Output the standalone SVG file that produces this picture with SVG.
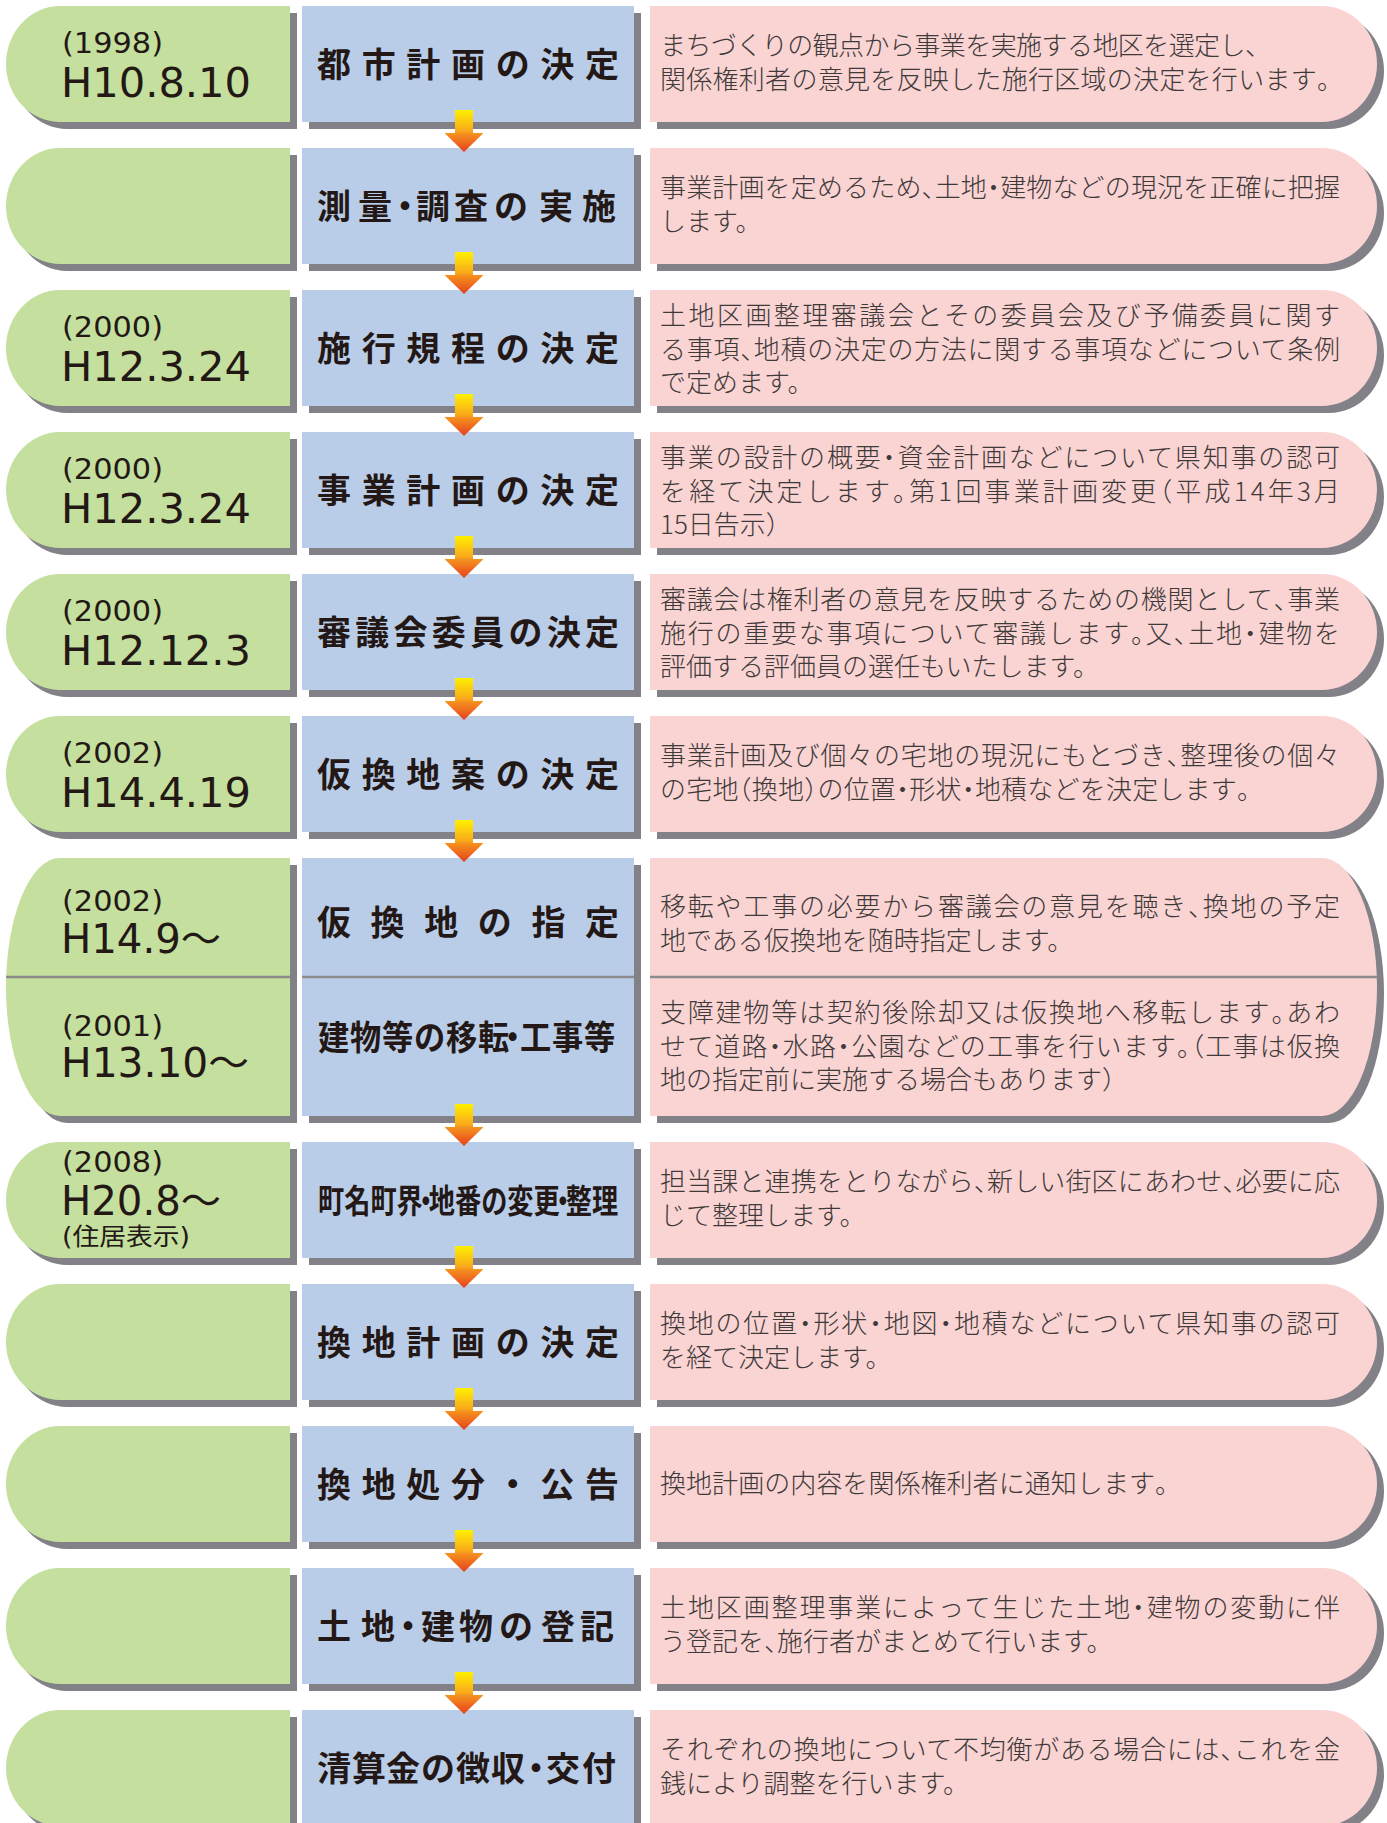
<svg xmlns="http://www.w3.org/2000/svg" xmlns:xlink="http://www.w3.org/1999/xlink" width="1387" height="1823" viewBox="0 0 1387 1823">
<style>
.g{fill:#C5DF9E}
.b{fill:#BACDE8}
.p{fill:#FAD3D3}
.s{fill:#818187}
.dt{font-family:"DejaVu Sans","Noto Sans CJK JP",sans-serif;fill:#231815}
.y{font-size:28px}
.d{font-size:40px}
.k{font-size:24px}
.t{font-family:"Noto Sans CJK JP",sans-serif;font-weight:700;font-size:34px;fill:#231815;text-anchor:middle}
.tl{text-anchor:start}
.x{font-family:"Noto Sans CJK JP",sans-serif;font-weight:300;font-size:26px;fill:#3E3A39}
.h{font-feature-settings:"halt"}
.dv{stroke:#8C8C8C;stroke-width:2.5}
.ar{fill:url(#ag)}
</style>
<defs>
<linearGradient id="ag" x1="0" y1="0" x2="0" y2="1">
<stop offset="0" stop-color="#FFF000"/>
<stop offset="0.5" stop-color="#F9A91B"/>
<stop offset="0.56" stop-color="#F5921E"/>
<stop offset="1" stop-color="#E6401E"/>
</linearGradient>
<path id="gS" d="M290,0 L60,0 A54,58 0 0 0 60,116 L290,116 Z"/>
<path id="pS" d="M650,0 L1322,0 A55,58 0 0 1 1322,116 L650,116 Z"/>
<rect id="bS" x="302" y="0" width="332" height="116"/>
<path id="gD" d="M290,0 L60,0 A54,129 0 0 0 60,258 L290,258 Z"/>
<path id="pD" d="M650,0 L1322,0 A55,129 0 0 1 1322,258 L650,258 Z"/>
<rect id="bD" x="302" y="0" width="332" height="258"/>
<path id="arw" d="M455,-12 L473,-12 L473,11 L483.5,11 L464,30 L444.5,11 L455,11 Z"/>
</defs>

<!-- Row 1 -->
<g id="r1-date"><use href="#gS" class="s" x="7" y="13"/><use href="#gS" class="g" y="6"/>
<text class="dt y" x="62" y="53" textLength="101" lengthAdjust="spacingAndGlyphs">(1998)</text>
<text class="dt d" x="61" y="97" textLength="190" lengthAdjust="spacingAndGlyphs">H10.8.10</text></g>
<g id="r1-step"><use href="#bS" class="s" x="7" y="13"/><use href="#bS" class="b" y="6"/>
<text class="t" x="468" y="77" textLength="302">都市計画の決定</text></g>
<g id="r1-desc"><use href="#pS" class="s" x="7" y="13"/><use href="#pS" class="p" y="6"/>
<text class="x" x="660" y="55" textLength="598">まちづくりの観点から事業を実施する地区を選定し<tspan class="h">、</tspan></text>
<text class="x" x="660" y="89" textLength="670">関係権利者の意見を反映した施行区域の決定を行います<tspan class="h">。</tspan></text></g>

<!-- Row 2 -->
<g id="r2-date"><use href="#gS" class="s" x="7" y="155"/><use href="#gS" class="g" y="148"/></g>
<g id="r2-step"><use href="#bS" class="s" x="7" y="155"/><use href="#bS" class="b" y="148"/>
<text class="t tl" y="219" x="317 358 388 416 454 494 539 582">測量・調査の実施</text></g>
<g id="r2-desc"><use href="#pS" class="s" x="7" y="155"/><use href="#pS" class="p" y="148"/>
<text class="x" x="660" y="197" textLength="680">事業計画を定めるため<tspan class="h">、</tspan>土地<tspan class="h">・</tspan>建物などの現況を正確に把握</text>
<text class="x" x="660" y="231">します。</text></g>

<!-- Row 3 -->
<g id="r3-date"><use href="#gS" class="s" x="7" y="297"/><use href="#gS" class="g" y="290"/>
<text class="dt y" x="62" y="337" textLength="101" lengthAdjust="spacingAndGlyphs">(2000)</text>
<text class="dt d" x="61" y="381" textLength="190" lengthAdjust="spacingAndGlyphs">H12.3.24</text></g>
<g id="r3-step"><use href="#bS" class="s" x="7" y="297"/><use href="#bS" class="b" y="290"/>
<text class="t" x="468" y="361" textLength="302">施行規程の決定</text></g>
<g id="r3-desc"><use href="#pS" class="s" x="7" y="297"/><use href="#pS" class="p" y="290"/>
<text class="x" x="660" y="325" textLength="680">土地区画整理審議会とその委員会及び予備委員に関す</text>
<text class="x" x="660" y="359" textLength="680">る事項<tspan class="h">、</tspan>地積の決定の方法に関する事項などについて条例</text>
<text class="x" x="660" y="392">で定めます。</text></g>

<!-- Row 4 -->
<g id="r4-date"><use href="#gS" class="s" x="7" y="439"/><use href="#gS" class="g" y="432"/>
<text class="dt y" x="62" y="479" textLength="101" lengthAdjust="spacingAndGlyphs">(2000)</text>
<text class="dt d" x="61" y="523" textLength="190" lengthAdjust="spacingAndGlyphs">H12.3.24</text></g>
<g id="r4-step"><use href="#bS" class="s" x="7" y="439"/><use href="#bS" class="b" y="432"/>
<text class="t" x="468" y="503" textLength="302">事業計画の決定</text></g>
<g id="r4-desc"><use href="#pS" class="s" x="7" y="439"/><use href="#pS" class="p" y="432"/>
<text class="x" x="660" y="467" textLength="680">事業の設計の概要<tspan class="h">・</tspan>資金計画などについて県知事の認可</text>
<text class="x" x="660" y="501" textLength="680">を経て決定します<tspan class="h">。</tspan>第1回事業計画変更<tspan class="h">（</tspan>平成14年3月</text>
<text class="x" x="660" y="534">15日告示）</text></g>

<!-- Row 5 -->
<g id="r5-date"><use href="#gS" class="s" x="7" y="581"/><use href="#gS" class="g" y="574"/>
<text class="dt y" x="62" y="621" textLength="101" lengthAdjust="spacingAndGlyphs">(2000)</text>
<text class="dt d" x="61" y="665" textLength="190" lengthAdjust="spacingAndGlyphs">H12.12.3</text></g>
<g id="r5-step"><use href="#bS" class="s" x="7" y="581"/><use href="#bS" class="b" y="574"/>
<text class="t" x="468" y="645" textLength="302">審議会委員の決定</text></g>
<g id="r5-desc"><use href="#pS" class="s" x="7" y="581"/><use href="#pS" class="p" y="574"/>
<text class="x" x="660" y="609" textLength="680">審議会は権利者の意見を反映するための機関として<tspan class="h">、</tspan>事業</text>
<text class="x" x="660" y="643" textLength="680">施行の重要な事項について審議します<tspan class="h">。</tspan>又<tspan class="h">、</tspan>土地<tspan class="h">・</tspan>建物を</text>
<text class="x" x="660" y="676">評価する評価員の選任もいたします。</text></g>

<!-- Row 6 -->
<g id="r6-date"><use href="#gS" class="s" x="7" y="723"/><use href="#gS" class="g" y="716"/>
<text class="dt y" x="62" y="763" textLength="101" lengthAdjust="spacingAndGlyphs">(2002)</text>
<text class="dt d" x="61" y="807" textLength="190" lengthAdjust="spacingAndGlyphs">H14.4.19</text></g>
<g id="r6-step"><use href="#bS" class="s" x="7" y="723"/><use href="#bS" class="b" y="716"/>
<text class="t" x="468" y="787" textLength="302">仮換地案の決定</text></g>
<g id="r6-desc"><use href="#pS" class="s" x="7" y="723"/><use href="#pS" class="p" y="716"/>
<text class="x" x="660" y="765" textLength="680">事業計画及び個々の宅地の現況にもとづき<tspan class="h">、</tspan>整理後の個々</text>
<text class="x" x="660" y="799" textLength="590">の宅地<tspan class="h">（</tspan>換地<tspan class="h">）</tspan>の位置<tspan class="h">・</tspan>形状<tspan class="h">・</tspan>地積などを決定します<tspan class="h">。</tspan></text></g>

<!-- Row 7 (double) -->
<g id="r7-date"><use href="#gD" class="s" x="7" y="865"/><use href="#gD" class="g" y="858"/>
<line class="dv" x1="6" y1="977" x2="290" y2="977"/>
<text class="dt y" x="62" y="911" textLength="101" lengthAdjust="spacingAndGlyphs">(2002)</text>
<text class="dt d" x="61" y="953" textLength="160" lengthAdjust="spacingAndGlyphs">H14.9〜</text>
<text class="dt y" x="62" y="1036" textLength="101" lengthAdjust="spacingAndGlyphs">(2001)</text>
<text class="dt d" x="61" y="1077" textLength="188" lengthAdjust="spacingAndGlyphs">H13.10〜</text></g>
<g id="r7-step"><use href="#bD" class="s" x="7" y="865"/><use href="#bD" class="b" y="858"/>
<line class="dv" x1="302" y1="977" x2="634" y2="977"/>
<text class="t" x="468" y="935" textLength="302">仮換地の指定</text>
<text class="t tl" transform="translate(318,1050) scale(0.92,1)" y="0" x="0 34.8 69.6 104.3 139.1 173.9 194.6 219.6 254.3 289.1">建物等の移転・工事等</text></g>
<g id="r7-desc"><use href="#pD" class="s" x="7" y="865"/><use href="#pD" class="p" y="858"/>
<line class="dv" x1="650" y1="977" x2="1377" y2="977"/>
<text class="x" x="660" y="915.5" textLength="680">移転や工事の必要から審議会の意見を聴き<tspan class="h">、</tspan>換地の予定</text>
<text class="x" x="660" y="950">地である仮換地を随時指定します。</text>
<text class="x" x="660" y="1021.5" textLength="680">支障建物等は契約後除却又は仮換地へ移転します<tspan class="h">。</tspan>あわ</text>
<text class="x" x="660" y="1055.5" textLength="680">せて道路<tspan class="h">・</tspan>水路<tspan class="h">・</tspan>公園などの工事を行います<tspan class="h">。（</tspan>工事は仮換</text>
<text class="x" x="660" y="1089">地の指定前に実施する場合もあります）</text></g>

<!-- Row 9 -->
<g id="r9-date"><use href="#gS" class="s" x="7" y="1149"/><use href="#gS" class="g" y="1142"/>
<text class="dt y" x="62" y="1172" textLength="101" lengthAdjust="spacingAndGlyphs">(2008)</text>
<text class="dt d" x="61" y="1215" textLength="160" lengthAdjust="spacingAndGlyphs">H20.8〜</text>
<text class="dt k" x="62" y="1245" textLength="128" lengthAdjust="spacingAndGlyphs">(住居表示)</text></g>
<g id="r9-step"><use href="#bS" class="s" x="7" y="1149"/><use href="#bS" class="b" y="1142"/>
<text class="t tl" style="font-size:33px" transform="translate(318,1213) scale(0.794,1)" y="0" x="0 33 66 99 119.3 139.5 172.5 205.5 238.5 271.5 291.8 312.1 345.1">町名町界・地番の変更・整理</text></g>
<g id="r9-desc"><use href="#pS" class="s" x="7" y="1149"/><use href="#pS" class="p" y="1142"/>
<text class="x" x="660" y="1191" textLength="680">担当課と連携をとりながら<tspan class="h">、</tspan>新しい街区にあわせ<tspan class="h">、</tspan>必要に応</text>
<text class="x" x="660" y="1225">じて整理します。</text></g>

<!-- Row 10 -->
<g id="r10-date"><use href="#gS" class="s" x="7" y="1291"/><use href="#gS" class="g" y="1284"/></g>
<g id="r10-step"><use href="#bS" class="s" x="7" y="1291"/><use href="#bS" class="b" y="1284"/>
<text class="t" x="468" y="1355" textLength="302">換地計画の決定</text></g>
<g id="r10-desc"><use href="#pS" class="s" x="7" y="1291"/><use href="#pS" class="p" y="1284"/>
<text class="x" x="660" y="1333" textLength="680">換地の位置<tspan class="h">・</tspan>形状<tspan class="h">・</tspan>地図<tspan class="h">・</tspan>地積などについて県知事の認可</text>
<text class="x" x="660" y="1367">を経て決定します。</text></g>

<!-- Row 11 -->
<g id="r11-date"><use href="#gS" class="s" x="7" y="1433"/><use href="#gS" class="g" y="1426"/></g>
<g id="r11-step"><use href="#bS" class="s" x="7" y="1433"/><use href="#bS" class="b" y="1426"/>
<text class="t" x="468" y="1497" textLength="302">換地処分・公告</text></g>
<g id="r11-desc"><use href="#pS" class="s" x="7" y="1433"/><use href="#pS" class="p" y="1426"/>
<text class="x" x="660" y="1493" textLength="508">換地計画の内容を関係権利者に通知します<tspan class="h">。</tspan></text></g>

<!-- Row 12 -->
<g id="r12-date"><use href="#gS" class="s" x="7" y="1575"/><use href="#gS" class="g" y="1568"/></g>
<g id="r12-step"><use href="#bS" class="s" x="7" y="1575"/><use href="#bS" class="b" y="1568"/>
<text class="t tl" y="1639" x="317 361 391 421 459 499 541 580">土地・建物の登記</text></g>
<g id="r12-desc"><use href="#pS" class="s" x="7" y="1575"/><use href="#pS" class="p" y="1568"/>
<text class="x" x="660" y="1617" textLength="680">土地区画整理事業によって生じた土地<tspan class="h">・</tspan>建物の変動に伴</text>
<text class="x" x="660" y="1651">う登記を<tspan class="h">、</tspan>施行者がまとめて行います。</text></g>

<!-- Row 13 -->
<g id="r13-date"><use href="#gS" class="s" x="7" y="1717"/><use href="#gS" class="g" y="1710"/></g>
<g id="r13-step"><use href="#bS" class="s" x="7" y="1717"/><use href="#bS" class="b" y="1710"/>
<text class="t tl" y="1781" x="317 352 386 421 456 491 519 546 582">清算金の徴収・交付</text></g>
<g id="r13-desc"><use href="#pS" class="s" x="7" y="1717"/><use href="#pS" class="p" y="1710"/>
<text class="x" x="660" y="1759" textLength="680">それぞれの換地について不均衡がある場合には<tspan class="h">、</tspan>これを金</text>
<text class="x" x="660" y="1793">銭により調整を行います。</text></g>

<!-- Connectors -->
<g id="connectors">
<use href="#arw" class="ar" y="122"/>
<use href="#arw" class="ar" y="264"/>
<use href="#arw" class="ar" y="406"/>
<use href="#arw" class="ar" y="548"/>
<use href="#arw" class="ar" y="690"/>
<use href="#arw" class="ar" y="832"/>
<use href="#arw" class="ar" y="1116"/>
<use href="#arw" class="ar" y="1258"/>
<use href="#arw" class="ar" y="1400"/>
<use href="#arw" class="ar" y="1542"/>
<use href="#arw" class="ar" y="1684"/>
</g>
</svg>
